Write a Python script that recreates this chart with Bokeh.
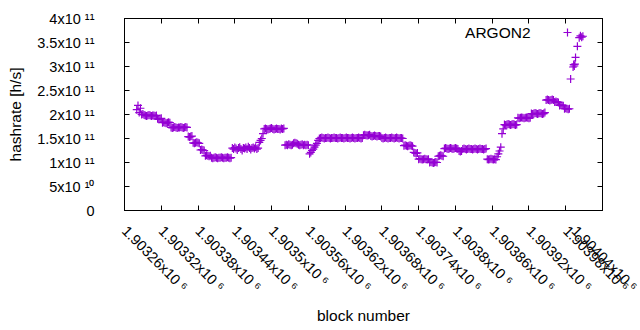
import math
from bokeh.plotting import figure
from bokeh.models import (Range1d, FixedTicker, LinearAxis, Label, Legend,
                          LegendItem, ColumnDataSource)
from bokeh.embed import file_html
from bokeh.resources import INLINE

# ---- data (hashrate in units of 1e9 h/s) ----
main_first_block = 1903280
main_block_step = 2
main_hashrate_e9 = [
    210, 219, 204, 213,
    200, 201, 199,
    198, 197, 198, 199, 198, 197, 198, 198, 197, 198,
    191, 190, 191, 192,
    183, 184, 183, 182, 183, 184, 183,
    173, 172, 173, 174, 173, 172, 173, 173, 174, 173, 172, 173, 174, 173,
    154, 153, 154, 155,
    141, 140, 141, 142, 141, 140,
    126, 127, 126, 125,
    114, 115, 114, 113, 114,
    110, 109, 110, 111, 110, 109, 110, 110, 111, 110, 109, 110, 110, 111, 110, 109, 110,
    130, 128, 131, 129, 126, 130, 132, 128, 125, 130, 129, 131, 128, 133, 130, 127,
    130, 131, 129, 132, 128, 130,
    142, 146, 150, 160,
    170, 171, 170, 169, 170, 171, 172, 170, 169, 170, 171, 170, 170, 169, 171, 170, 171,
    136, 137, 136, 138, 137, 136, 137, 140, 141, 140, 139, 137, 136, 137, 138, 136,
    137, 136, 137, 136,
    118, 121, 125, 128, 132, 136, 140, 146,
    150, 151, 152, 151, 150, 151, 151, 152, 151, 150, 151, 151, 152, 151, 151, 150,
    151, 152, 151, 151, 150, 151, 152, 151, 151, 150, 151, 152, 151, 150, 151, 151,
    152, 151, 150, 151,
    157, 158, 157, 156, 157, 158,
    155, 154, 155, 156, 155, 154, 155, 155, 154,
    151, 150, 151, 152, 151, 150, 151, 151, 152, 151, 150, 151, 152, 151, 150, 151, 151, 150,
    135, 136, 135, 134, 135, 136, 135, 134,
    121, 120, 119, 120,
    107, 108, 107, 106, 107, 108, 107, 106, 107,
    100, 101, 100, 99, 100, 101, 100,
    113, 114, 115, 114, 113,
    129, 130, 129, 128, 129, 130, 129, 128, 129, 130, 129, 128,
    124, 123, 124,
    128, 129, 128, 127, 128, 129, 128, 128, 127, 128, 129, 128, 127, 128, 129, 128,
    128, 127, 128, 129,
    107, 106, 107, 108, 107, 106, 107, 106,
    112, 118, 124, 132, 160, 170,
    179, 178, 179, 180, 179, 178, 179, 180, 179, 178, 179,
    193, 192, 193, 194, 193, 192, 193, 194, 193, 192, 193,
    202, 201, 202, 203, 202, 201, 202, 203, 202, 201, 202, 204,
    230, 231, 230, 229, 230, 231, 230,
    226, 227, 226, 225,
    219, 220, 219, 218,
    212, 213, 212, 211, 212,
]
spike_blocks = [1903988, 1903992, 1903993, 1903994, 1903995, 1903996, 1903999,
                1904002, 1904004, 1904006, 1904008]
spike_hashrate_e9 = [274, 299, 304, 301, 305, 319, 342, 360, 364, 361, 363]

series_name = "ARGON2"

x_ticks = [1903260, 1903320, 1903380, 1903440, 1903500, 1903560, 1903620,
           1903680, 1903740, 1903800, 1903860, 1903920, 1903980, 1904040]
x_tick_labels = ["1.90326x10 \u2076", "1.90332x10 \u2076", "1.90338x10 \u2076",
                 "1.90344x10 \u2076", "1.9035x10 \u2076", "1.90356x10 \u2076",
                 "1.90362x10 \u2076", "1.90368x10 \u2076", "1.90374x10 \u2076",
                 "1.9038x10 \u2076", "1.90386x10 \u2076", "1.90392x10 \u2076",
                 "1.90398x10 \u2076", "1.90404x10 \u2076"]
y_ticks = [0, 5e10, 1e11, 1.5e11, 2e11, 2.5e11, 3e11, 3.5e11, 4e11]
y_tick_labels = ["0", "5x10 \u00b9\u2070", "1x10 \u00b9\u00b9", "1.5x10 \u00b9\u00b9",
                 "2x10 \u00b9\u00b9", "2.5x10 \u00b9\u00b9", "3x10 \u00b9\u00b9",
                 "3.5x10 \u00b9\u00b9", "4x10 \u00b9\u00b9"]

# ---- build source ----
main_blocks = list(range(main_first_block,
                         main_first_block + main_block_step * len(main_hashrate_e9),
                         main_block_step))
blocks = main_blocks + spike_blocks
hashrate = [v * 1e9 for v in main_hashrate_e9 + spike_hashrate_e9]
src = ColumnDataSource(dict(block=blocks, hashrate=hashrate))

FONT = "Liberation Sans"
FS = "14.5px"
FS_LABEL = "15.5px"
COLOR = "#9400d3"

p = figure(frame_width=478, frame_height=192, output_backend="svg",
           toolbar_location=None,
           x_range=Range1d(x_ticks[0], x_ticks[-1]),
           y_range=Range1d(y_ticks[0], y_ticks[-1]),
           min_border_left=124, min_border_right=38,
           min_border_top=18, min_border_bottom=120,
           x_axis_label="block number", y_axis_label="hashrate [h/s]")
p.grid.visible = False
p.outline_line_color = "black"
p.outline_line_width = 1
p.background_fill_color = "white"
p.border_fill_color = "white"

r = p.scatter(x="block", y="hashrate", source=src, marker="cross", size=8,
              line_color=COLOR, line_width=1.2)

xa = p.xaxis[0]
ya = p.yaxis[0]
xa.ticker = FixedTicker(ticks=x_ticks)
ya.ticker = FixedTicker(ticks=y_ticks)
xa.major_label_overrides = dict(zip(x_ticks, x_tick_labels))
ya.major_label_overrides = dict(zip(y_ticks, y_tick_labels))
xa.major_label_orientation = -math.pi / 4
xa.major_label_standoff = 18
ya.major_label_standoff = 30
xa.axis_label_standoff = 4
ya.axis_label_standoff = 10
for ax in (xa, ya):
    ax.major_tick_in = 5
    ax.major_tick_out = 0
    ax.minor_tick_line_color = None
    ax.major_label_text_font = FONT
    ax.major_label_text_font_size = FS
    ax.major_label_text_color = "black"
    ax.axis_label_text_font = FONT
    ax.axis_label_text_font_size = FS_LABEL
    ax.axis_label_text_font_style = "normal"
    ax.axis_label_text_color = "black"
    ax.axis_line_color = "black"
    ax.major_tick_line_color = "black"

# mirrored tick marks on top and right (gnuplot style)
top = LinearAxis(ticker=FixedTicker(ticks=x_ticks),
                 major_label_overrides={t: "" for t in x_ticks},
                 major_label_text_font_size="1px", major_label_standoff=0,
                 major_tick_in=5, major_tick_out=0, minor_tick_line_color=None,
                 axis_line_color="black")
right = LinearAxis(ticker=FixedTicker(ticks=y_ticks),
                   major_label_overrides={t: "" for t in y_ticks},
                   major_label_text_font_size="1px", major_label_standoff=0,
                   major_tick_in=5, major_tick_out=0, minor_tick_line_color=None,
                   axis_line_color="black")
p.add_layout(top, "above")
p.add_layout(right, "right")

# key: title text then sample marker (gnuplot order)
legend = Legend(items=[LegendItem(label="", renderers=[r])], location="top_right",
                margin=4, padding=0, spacing=0, glyph_width=20, glyph_height=20,
                label_width=21, label_height=20, label_standoff=0,
                label_text_font_size="8px", border_line_alpha=0,
                background_fill_alpha=0)
p.add_layout(legend)
p.add_layout(Label(x=406, y=178, x_units="screen", y_units="screen",
                   text=series_name, text_align="right", text_baseline="middle",
                   text_font=FONT, text_font_size=FS_LABEL, text_color="black"))

open("out.html", "w").write(file_html(p, INLINE))
